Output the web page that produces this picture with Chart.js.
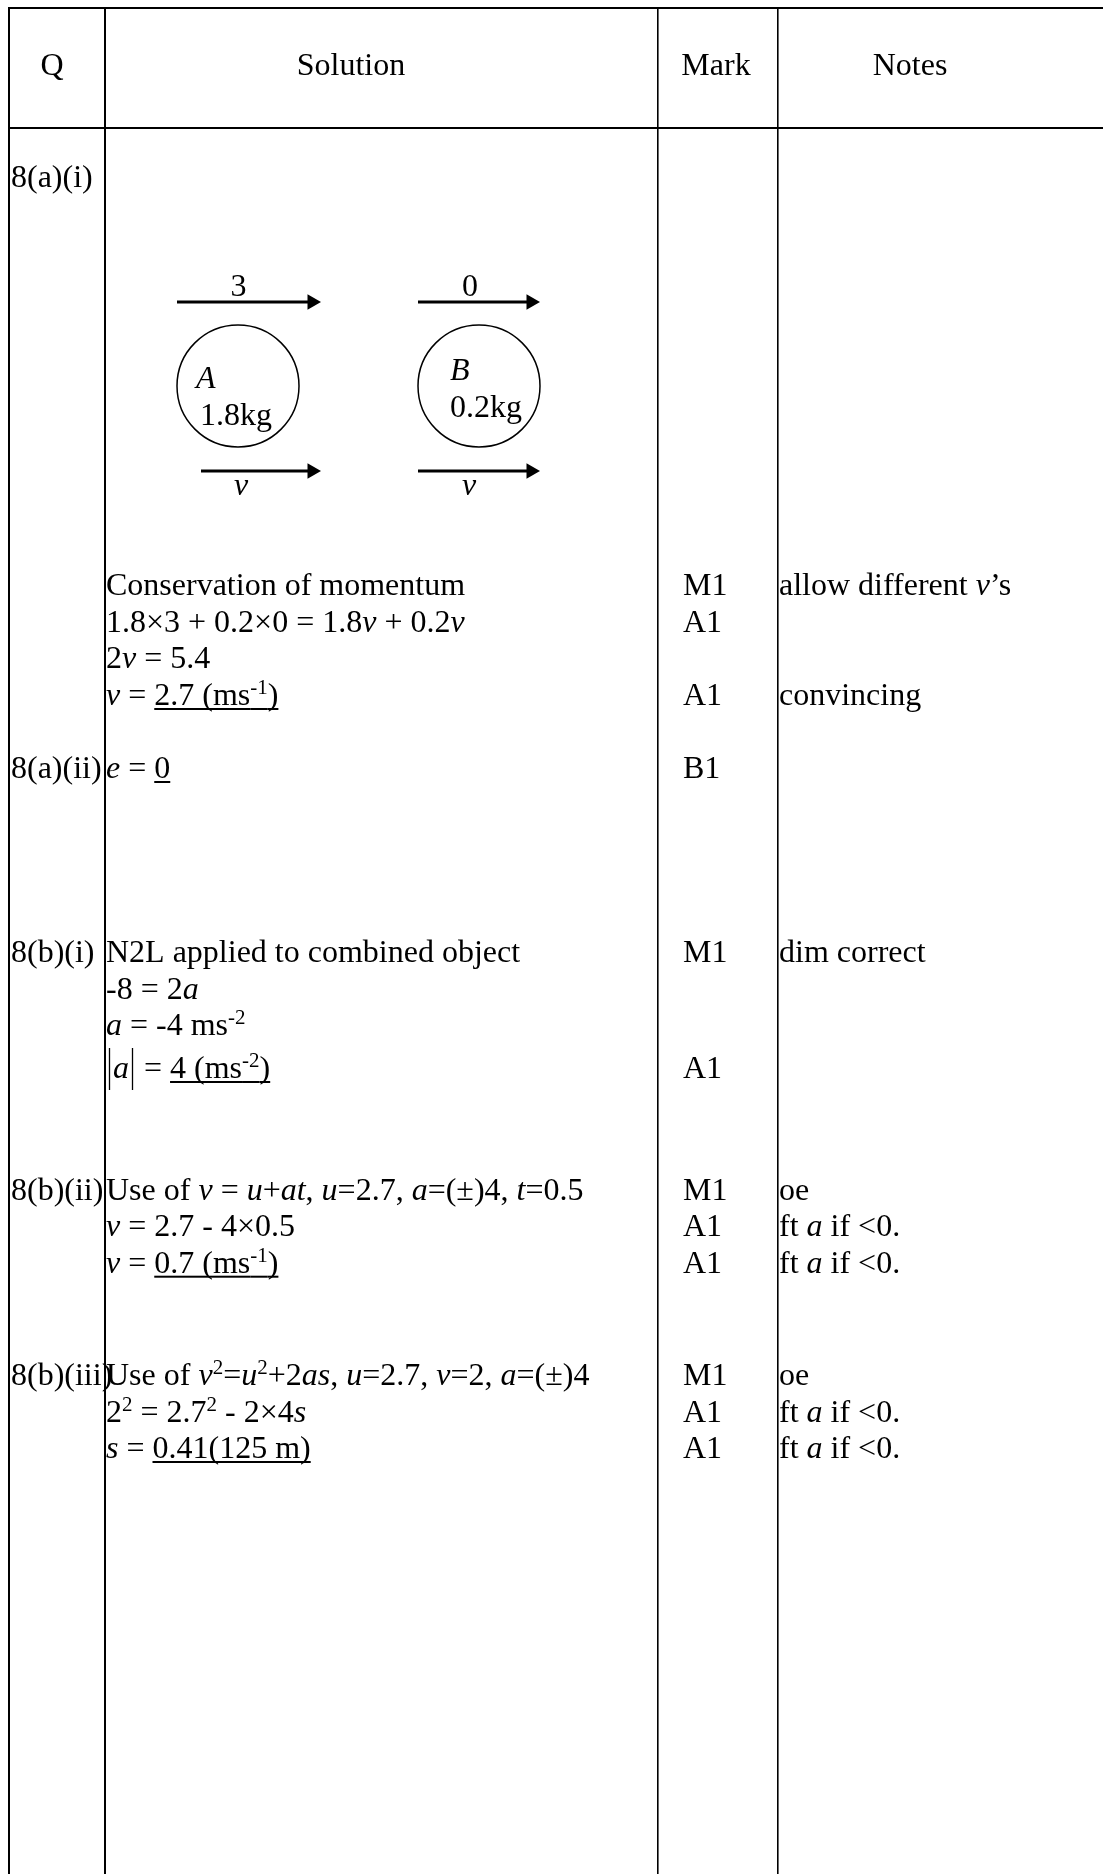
<!DOCTYPE html>
<html>
<head>
<meta charset="utf-8">
<script src="https://cdn.jsdelivr.net/npm/chart.js@4.4.1/dist/chart.umd.min.js"></script>
<style>
  html, body { margin: 0; padding: 0; background: #ffffff; }
  canvas { display: block; }
</style>
</head>
<body>
<canvas id="c" width="1103" height="1874"></canvas>
<script>
// ---------------- content (data) ----------------
const headers = ['Q', 'Solution', 'Mark', 'Notes'];
const questions = ['8(a)(i)', '8(a)(ii)', '8(b)(i)', '8(b)(ii)', '8(b)(iii)'];
// markup: *italic*  _underline_  ^{superscript}  ¦ tall absolute-value bar
const solutions = [
  ['Conservation of momentum', '1.8×3 + 0.2×0 = 1.8*v* + 0.2*v*', '2*v* = 5.4', '*v* = _2.7 (ms^{-1})_'],
  ['*e* = _0_'],
  ['N2L applied to combined object', '-8 = 2*a*', '*a* = -4 ms^{-2}', '¦*a*¦ = _4 (ms^{-2})_'],
  ['Use of *v* = *u*+*at*, *u*=2.7, *a*=(±)4, *t*=0.5', '*v* = 2.7 - 4×0.5', '*v* = _0.7 (ms^{-1})_'],
  ['Use of *v*^{2}=*u*^{2}+2*as*, *u*=2.7, *v*=2, *a*=(±)4', '2^{2} = 2.7^{2} - 2×4*s*', '*s* = _0.41(125 m)_']
];
const marks = [
  ['M1', 'A1', '', 'A1'],
  ['B1'],
  ['M1', '', '', 'A1'],
  ['M1', 'A1', 'A1'],
  ['M1', 'A1', 'A1']
];
const notes = [
  ['allow different *v*’s', '', '', 'convincing'],
  [],
  ['dim correct'],
  ['oe', 'ft *a* if <0.', 'ft *a* if <0.'],
  ['oe', 'ft *a* if <0.', 'ft *a* if <0.']
];
// collision diagram
const bodies = ['A', 'B'];
const massesKg = ['1.8', '0.2'];
const speedsBefore = ['3', '0'];
const speedAfter = 'v';

// ---------------- layout (page units = pixels) ----------------
const FAMILY = '"Liberation Serif", "Times New Roman", Times, serif';
const SIZE = 32, SUP = 21, SUPRISE = 11, BARW = 7;
const columnEdges = [9, 105, 658, 778];
const ruleRows = [8, 128];
const headerX = [52, 351, 716, 910], headerBase = 75;
const qX = 11, solX = 106, markX = 683, noteX = 779;
const qBase = [187, 778, 962, 1199.5, 1385];
const lineBase = [
  [595, 632, 668, 705],
  [778],
  [962, 998.5, 1035, 1078],
  [1199.5, 1236, 1272.7],
  [1385, 1421.7, 1458]
];
const bodyCX = [238, 479], bodyCY = 386, bodyR = 61;
const topArrowY = 302, botArrowY = 471, headR = 9;
const topArrowStart = [177, 418], botArrowStart = [201, 418], arrowTip = [321, 540];
const speedLabelX = [238.5, 470], speedBase = 296;
const nameX = [196, 450], nameBase = [388, 380];
const massX = [200, 450], massBase = [425, 417];
const vLabelX = [241, 469], vBase = 495;

// ---------------- rich text helpers ----------------
function parse(str) {
  const runs = []; let it = false, un = false, sup = false, buf = '';
  const push = () => { if (buf) { runs.push({ t: buf, it, un, sup }); buf = ''; } };
  for (let i = 0; i < str.length; i++) {
    const c = str[i];
    if (c === '*') { push(); it = !it; }
    else if (c === '_') { push(); un = !un; }
    else if (c === '^' && str[i + 1] === '{') { push(); sup = true; i++; }
    else if (c === '}' && sup) { push(); sup = false; }
    else if (c === '¦') { push(); runs.push({ bar: true, it, un, sup }); }
    else buf += c;
  }
  push();
  return runs;
}
function fontFor(r) { return (r.it ? 'italic ' : '') + (r.sup ? SUP : SIZE) + 'px ' + FAMILY; }
function drawRich(ctx, str, x, y, align) {
  const runs = parse(str);
  const widths = runs.map(r => { if (r.bar) return BARW; ctx.font = fontFor(r); return ctx.measureText(r.t).width; });
  const total = widths.reduce((a, b) => a + b, 0);
  let cx = align === 'center' ? x - total / 2 : x;
  runs.forEach((r, i) => {
    const w = widths[i];
    if (r.bar) {
      ctx.beginPath(); ctx.lineWidth = 1.3;
      ctx.moveTo(cx + w / 2, y + 12); ctx.lineTo(cx + w / 2, y - 30); ctx.stroke();
    } else {
      ctx.font = fontFor(r);
      ctx.fillText(r.t, cx, r.sup ? y - SUPRISE : y);
    }
    if (r.un) ctx.fillRect(cx, y + 3, w, 2);
    cx += w;
  });
}

const textPlugin = {
  id: 'tableText',
  afterDraw(chart) {
    const ctx = chart.ctx, sx = chart.scales.x, sy = chart.scales.y;
    const X = v => sx.getPixelForValue(v), Y = v => sy.getPixelForValue(v);
    ctx.save();
    ctx.fillStyle = '#000'; ctx.strokeStyle = '#000';
    ctx.textBaseline = 'alphabetic'; ctx.textAlign = 'left';
    headers.forEach((h, i) => drawRich(ctx, h, X(headerX[i]), Y(headerBase), 'center'));
    questions.forEach((q, r) => {
      drawRich(ctx, q, X(qX), Y(qBase[r]), 'left');
      solutions[r].forEach((s, k) => drawRich(ctx, s, X(solX), Y(lineBase[r][k]), 'left'));
      marks[r].forEach((m, k) => { if (m) drawRich(ctx, m, X(markX), Y(lineBase[r][k]), 'left'); });
      notes[r].forEach((n, k) => { if (n) drawRich(ctx, n, X(noteX), Y(lineBase[r][k]), 'left'); });
    });
    bodies.forEach((b, i) => {
      drawRich(ctx, speedsBefore[i], X(speedLabelX[i]), Y(speedBase), 'center');
      drawRich(ctx, '*' + b + '*', X(nameX[i]), Y(nameBase[i]), 'left');
      drawRich(ctx, massesKg[i] + 'kg', X(massX[i]), Y(massBase[i]), 'left');
      drawRich(ctx, '*' + speedAfter + '*', X(vLabelX[i]), Y(vBase), 'center');
    });
    ctx.restore();
  }
};

// ---------------- datasets ----------------
const arrowStyle = {
  showLine: true, borderColor: '#000', borderWidth: 3, backgroundColor: '#000',
  pointStyle: 'triangle', pointRotation: 90, pointRadius: [0, headR],
  pointBackgroundColor: '#000', pointBorderWidth: 0, pointHoverRadius: [0, headR]
};
const datasets = [{
  label: 'bodies',
  data: bodies.map((b, i) => ({ x: bodyCX[i], y: bodyCY })),
  pointStyle: 'circle', pointRadius: bodyR, pointHoverRadius: bodyR,
  backgroundColor: 'rgba(0,0,0,0)', borderColor: '#000', borderWidth: 1.5
}];
bodies.forEach((b, i) => {
  datasets.push(Object.assign({ label: 'before ' + b,
    data: [{ x: topArrowStart[i], y: topArrowY }, { x: arrowTip[i] - headR, y: topArrowY }] }, arrowStyle));
  datasets.push(Object.assign({ label: 'after ' + b,
    data: [{ x: botArrowStart[i], y: botArrowY }, { x: arrowTip[i] - headR, y: botArrowY }] }, arrowStyle));
});

new Chart(document.getElementById('c'), {
  type: 'scatter',
  data: { datasets },
  options: {
    responsive: false, animation: false, events: [], devicePixelRatio: 1,
    layout: { autoPadding: false, padding: { left: 8, top: 7, right: 0, bottom: 0 } },
    plugins: { legend: { display: false }, tooltip: { enabled: false } },
    scales: {
      x: {
        type: 'linear', position: 'top', min: 8, max: 1103,
        afterBuildTicks: s => { s.ticks = columnEdges.map(v => ({ value: v })); },
        ticks: { display: false },
        grid: { drawTicks: false, color: '#000', lineWidth: c => (c.tick && c.tick.value < 200) ? 2 : 1.6 },
        border: { display: false }
      },
      y: {
        type: 'linear', reverse: true, min: 7, max: 1874,
        afterBuildTicks: s => { s.ticks = ruleRows.map(v => ({ value: v })); },
        ticks: { display: false },
        grid: { drawTicks: false, color: '#000', lineWidth: 2 },
        border: { display: false }
      }
    }
  },
  plugins: [textPlugin]
});
</script>
</body>
</html>
